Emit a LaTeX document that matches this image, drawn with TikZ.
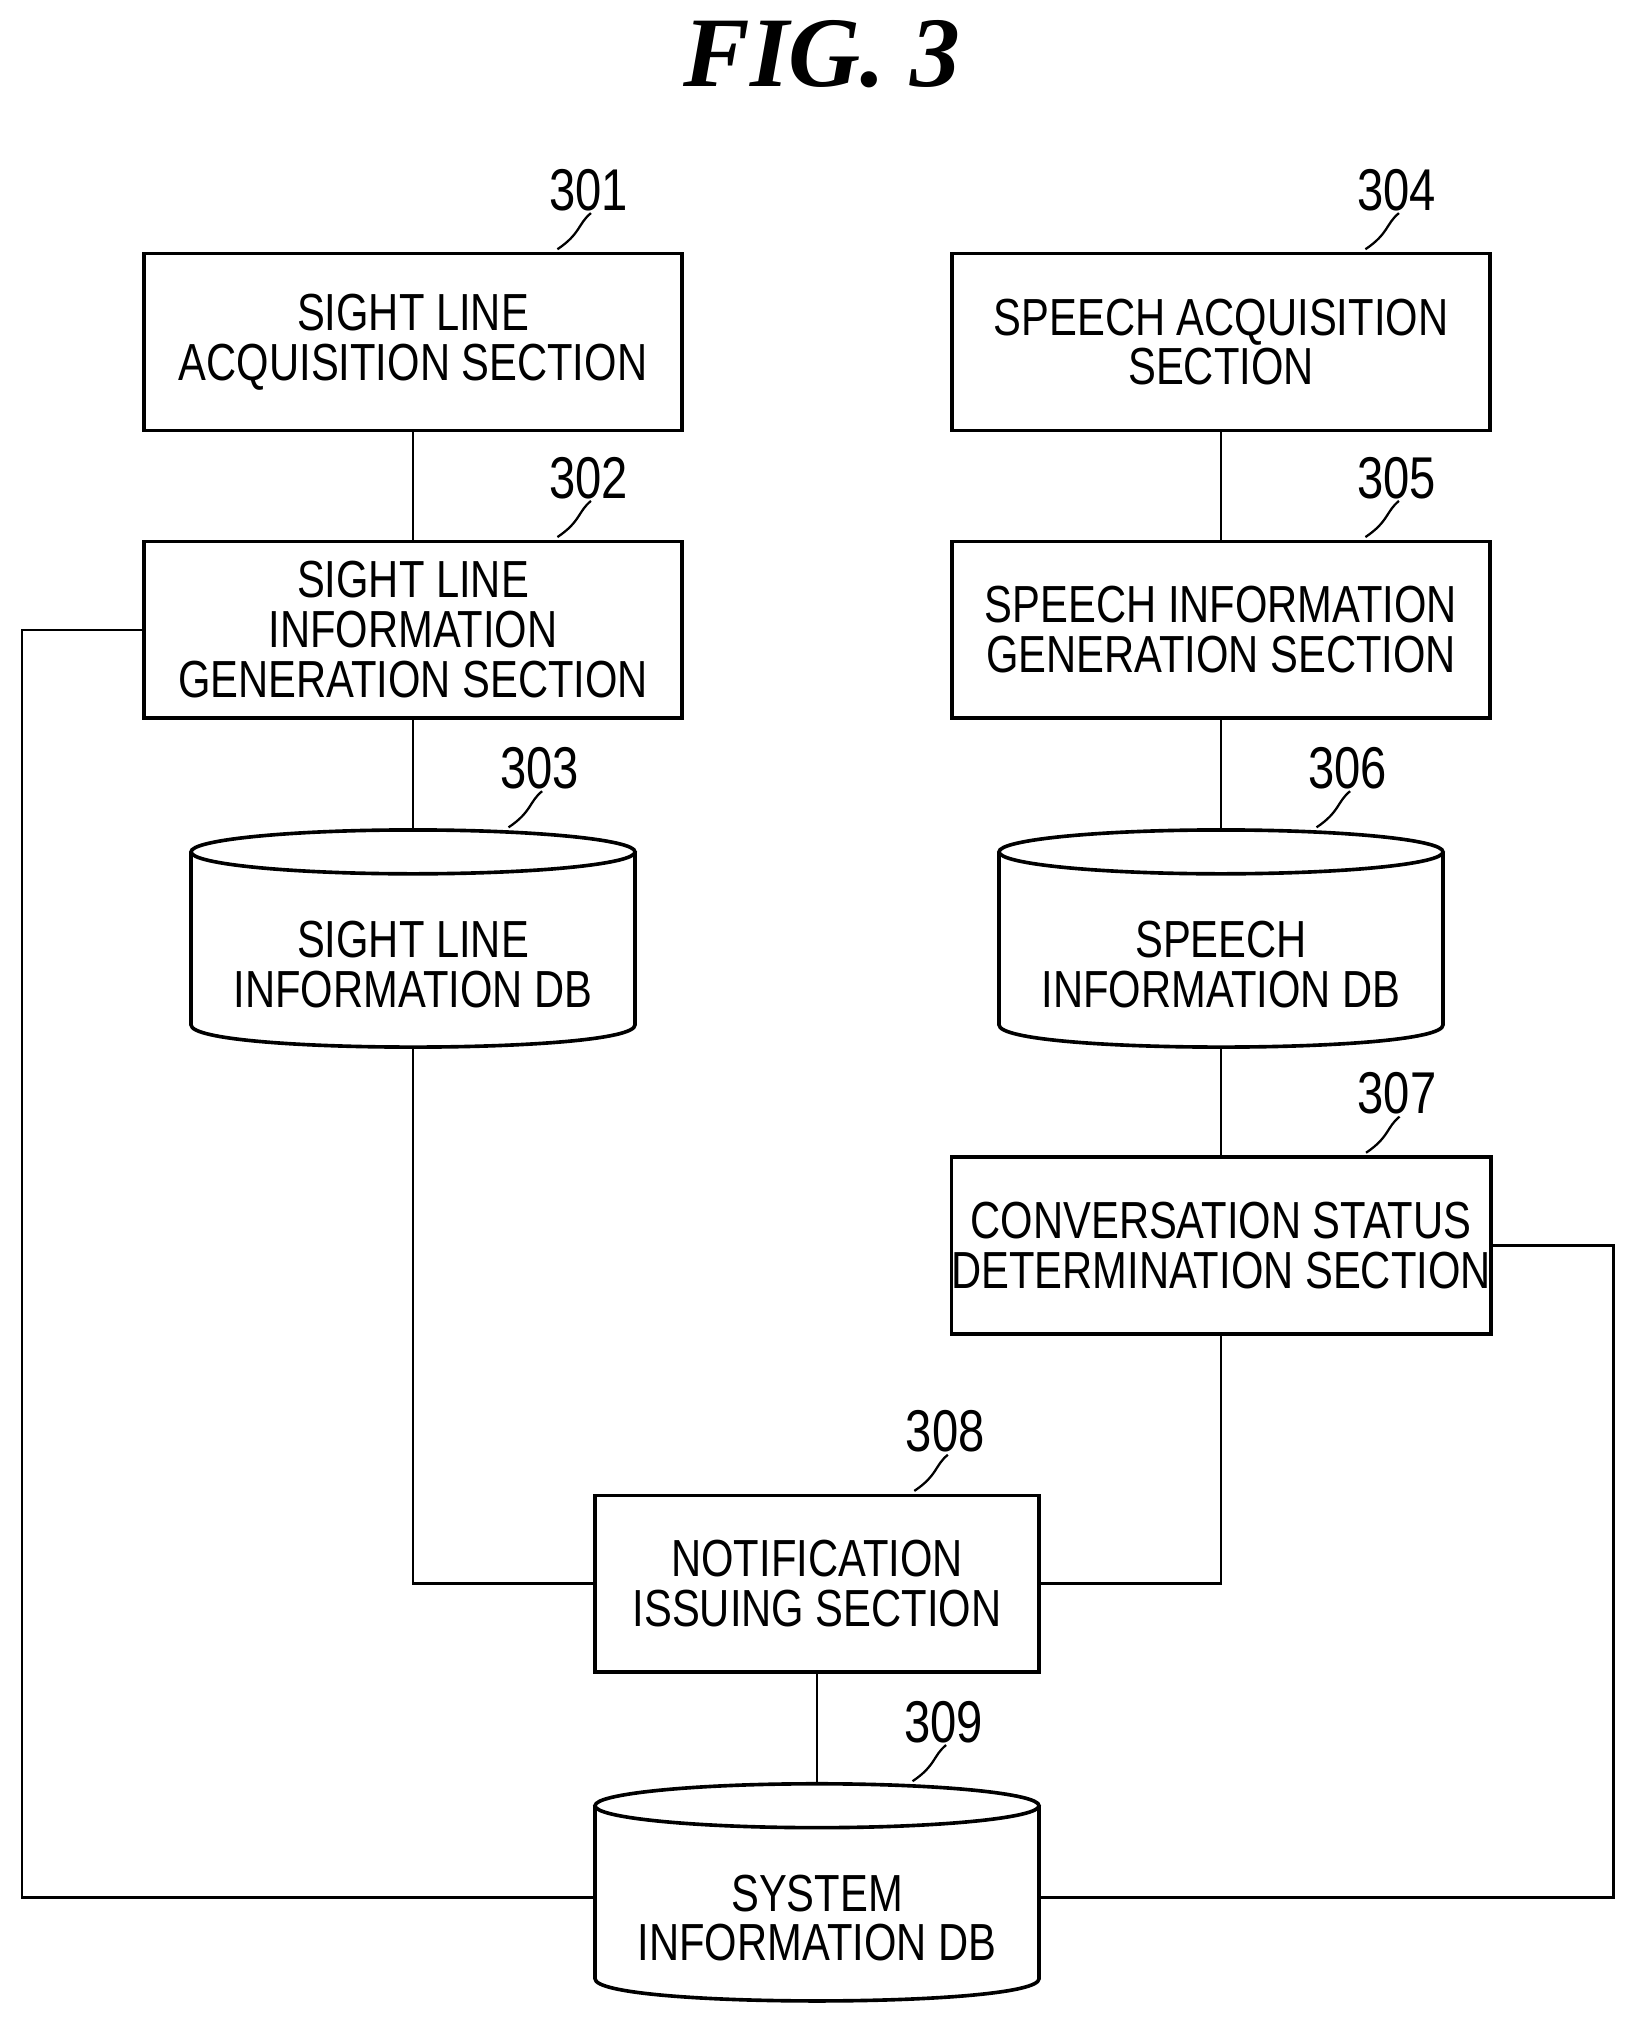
\documentclass[tikz,border=0pt]{standalone}
\usepackage{fontspec}
\setmainfont{Liberation Sans}[FakeStretch=0.8]
\newfontfamily\figfont{Liberation Serif}
\usetikzlibrary{positioning,calc}

\tikzset{
  block/.style={draw, line width=1.6pt, inner sep=0pt, minimum width=8.34cm, minimum height=2.74cm, align=center, font=\fontsize{23}{22}\selectfont},
  dbtext/.style={inner sep=0pt, align=center, font=\fontsize{23}{22}\selectfont},
  conn/.style={line width=1.2pt},
  ref/.style={font=\fontsize{26}{26}\selectfont},
  leader/.style={line width=1pt}
}
% database drum around a centre coordinate, with its text node
\newcommand{\dbdrum}[3]{%
  \coordinate (#1) at (#2);
  \coordinate (#1-top) at ($(#1)+(0,-84)$);
  \coordinate (#1-bot) at ($(#1)+(0,84)$);
  \coordinate (#1-ne) at ($(#1)+(172,-84)$);
  \draw[line width=1.6pt] ($(#1)+(0,-67)$) ellipse[x radius=172, y radius=17];
  \draw[line width=1.6pt] ($(#1)+(-172,-67)$) -- ($(#1)+(-172,67)$)
    .. controls ($(#1)+(-172,90)$) and ($(#1)+(172,90)$) .. ($(#1)+(172,67)$) -- ($(#1)+(172,-67)$);
  \node[dbtext] (#1-text) at ($(#1)+(0,20)$) {#3};}
% reference number with leader
\newcommand{\refno}[2]{%
  \node[ref] (#1-no) at ($(#1)+(-74,-48)$) {#2};
  \draw[leader] ($(#1)+(-98,-2)$) .. controls ($(#1)+(-80,-14)$) and ($(#1)+(-82,-22)$) .. ($(#1)+(-72,-30)$);}

\begin{document}
\begin{tikzpicture}[x=0.02cm, y=-0.02cm]
\useasboundingbox (0,0) rectangle (1270,1572);

\node[font=\figfont\bfseries\itshape\fontsize{44}{44}\selectfont] (title) at (637,42) {FIG. 3};

% left column
\node[block] (sla) at (320,265) {SIGHT LINE\\ACQUISITION SECTION};
\node[block] (slg) at (320,488) {SIGHT LINE\\INFORMATION\\GENERATION SECTION};
\dbdrum{sldb}{320,727}{SIGHT LINE\\INFORMATION DB}
% right column
\node[block] (spa) at (946,265) {SPEECH ACQUISITION\\SECTION};
\node[block] (spg) at (946,488) {SPEECH INFORMATION\\GENERATION SECTION};
\dbdrum{spdb}{946,727}{SPEECH\\INFORMATION DB}
\node[block] (csd) at (946,965) {CONVERSATION STATUS\\DETERMINATION SECTION};
% bottom
\node[block, minimum width=6.88cm] (nis) at (633,1227) {NOTIFICATION\\ISSUING SECTION};
\dbdrum{sysdb}{633,1466}{SYSTEM\\INFORMATION DB}

\refno{sla.north east}{301}
\refno{slg.north east}{302}
\refno{sldb-ne}{303}
\refno{spa.north east}{304}
\refno{spg.north east}{305}
\refno{spdb-ne}{306}
\refno{csd.north east}{307}
\refno{nis.north east}{308}
\refno{sysdb-ne}{309}

\draw[conn] (sla) -- (slg);
\draw[conn] (slg) -- (sldb-top);
\draw[conn] (spa) -- (spg);
\draw[conn] (spg) -- (spdb-top);
\draw[conn] (spdb-bot) -- (csd);
\draw[conn] (nis) -- (sysdb-top);
\draw[conn] (sldb-bot) |- (nis.west);
\draw[conn] (csd.south) |- (nis.east);
\coordinate (lft) at (17,1470);
\coordinate (rgt) at (1250,1470);
\draw[conn] (slg.west) -| (lft) -- ($(sysdb)+(-172,4)$);
\draw[conn] (csd.east) -| (rgt) -- ($(sysdb)+(172,4)$);
\end{tikzpicture}
\end{document}
